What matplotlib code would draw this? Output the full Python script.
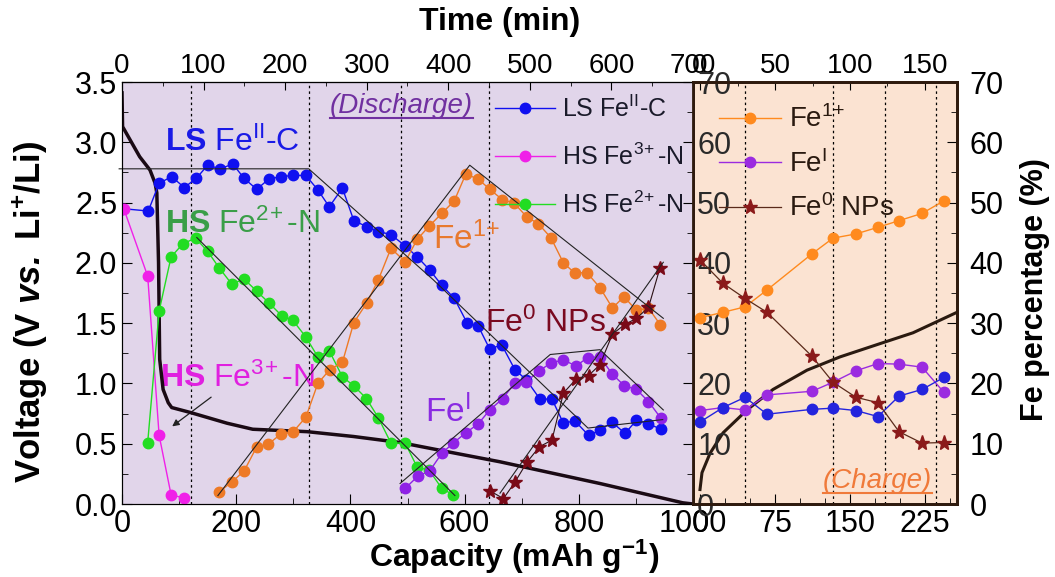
import numpy as np
import matplotlib
matplotlib.use('Agg')
import matplotlib.pyplot as plt
from matplotlib.ticker import MultipleLocator, FormatStrFormatter

plt.rcParams['font.family'] = ['Liberation Sans', 'DejaVu Sans']
plt.rcParams['mathtext.fontset'] = 'custom'
plt.rcParams['mathtext.rm'] = 'Liberation Sans'
plt.rcParams['mathtext.it'] = 'Liberation Sans:italic'
plt.rcParams['mathtext.bf'] = 'Liberation Sans:bold'
plt.rcParams['mathtext.bfit'] = 'Liberation Sans:italic:bold'
plt.rcParams['xtick.direction'] = 'in'
plt.rcParams['ytick.direction'] = 'in'

#########################################################
################### DISCHARGE DATA ######################
#########################################################
# capacity in mAh/g, Fe fraction in %
ls_cap = [0, 46, 65, 87, 109, 130, 150, 172, 194, 214, 236, 257, 278, 299, 322,
          343, 363, 386, 406, 429, 449, 471, 496, 517, 539, 560, 582, 604, 624,
          644, 665, 688, 708, 732, 753, 773, 793, 817, 837, 858, 881, 901, 922, 944]
ls_pct = [49.0, 48.6, 53.2, 54.3, 52.5, 54.0, 56.2, 55.6, 56.4, 54.0, 52.2, 53.9,
          54.3, 54.5, 54.5, 52.1, 49.3, 52.4, 47.0, 46.0, 45.2, 44.7, 42.8, 41.0,
          38.8, 36.3, 34.1, 30.1, 29.5, 25.7, 26.4, 22.3, 20.6, 17.4, 17.4, 13.4,
          13.8, 11.4, 12.2, 13.6, 11.7, 13.9, 13.3, 12.4]

hs3_cap = [3, 45, 65, 86, 109]
hs3_pct = [49.0, 37.8, 11.4, 1.5, 1.0]

hs2_cap = [45, 65, 86, 107, 129, 150, 170, 192, 214, 236, 258, 280, 299, 322, 343,
           363, 386, 406, 428, 449, 471, 496, 517, 538, 560, 580]
hs2_pct = [10.2, 32.0, 41.0, 43.2, 44.1, 41.9, 39.2, 36.5, 37.3, 35.3, 33.3, 31.2,
           30.5, 27.7, 24.4, 25.4, 21.1, 19.6, 17.5, 14.3, 10.1, 10.1, 6.1, 5.6,
           2.6, 1.5]

fe1_cap = [170, 193, 214, 236, 256, 278, 299, 322, 343, 364, 386, 406, 429, 449,
           471, 496, 517, 538, 560, 582, 602, 624, 644, 666, 687, 709, 729, 751,
           773, 793, 814, 837, 859, 879, 901, 922, 943]
fe1_pct = [2.0, 3.7, 5.5, 9.5, 9.9, 11.6, 11.9, 14.4, 20.0, 22.3, 23.5, 30.1, 33.4,
           37.2, 42.4, 40.2, 43.9, 46.1, 48.2, 50.3, 54.7, 53.9, 52.2, 50.5, 49.9,
           47.6, 46.5, 44.2, 40.0, 38.3, 38.4, 35.9, 32.5, 34.4, 32.1, 32.5, 29.7]

fei_cap = [496, 518, 539, 560, 580, 602, 624, 644, 667, 688, 708, 731, 751, 773,
           795, 816, 837, 859, 880, 901, 922, 944]
fei_pct = [2.6, 4.6, 5.5, 8.4, 10.1, 11.8, 13.3, 15.6, 17.5, 20.1, 20.3, 22.1, 23.4,
           23.9, 22.9, 24.3, 24.4, 21.5, 19.6, 19.0, 17.0, 14.2]

fe0_cap = [644, 668, 688, 709, 731, 753, 773, 795, 817, 837, 859, 881, 901, 922, 942]
fe0_pct = [2.2, 0.9, 3.6, 6.9, 9.5, 10.6, 18.4, 20.7, 21.3, 23.1, 28.2, 29.8, 30.8,
           32.6, 39.1]

# discharge voltage profile
v_cap = [0, 1, 31, 49, 58, 61, 64, 66, 72, 81, 87, 119, 184, 229, 324, 405, 487,
         574, 662, 837, 982, 1000]
v_volt = [3.41, 3.13, 2.88, 2.77, 2.66, 2.58, 2.0, 1.2, 0.95, 0.84, 0.80, 0.76,
          0.67, 0.62, 0.60, 0.56, 0.51, 0.43, 0.35, 0.17, 0.01, 0.0]

# guide lines (capacity, %)
guide_ls_cap = [-5, 327, 545, 816, 947]
guide_ls_pct = [55.6, 55.6, 37.2, 12.6, 14.0]
guide_hs2_cap = [131, 583]
guide_hs2_pct = [44.2, 1.4]
guide_fe1_cap = [168, 609, 948]
guide_fe1_pct = [1.4, 56.2, 30.8]
guide_fei_cap = [487, 750, 837, 948]
guide_fei_pct = [3.4, 24.8, 25.6, 15.6]
guide_fe0_cap = [662, 948]
guide_fe0_pct = [1.8, 40.1]

dis_dotted = [121, 327, 489, 643]

#########################################################
#################### CHARGE DATA ########################
#########################################################
ch_cap = [0, 23, 45, 67, 112, 133, 156, 178, 199, 222, 244]
ch_fe1 = [30.9, 31.8, 32.7, 35.5, 41.5, 44.1, 44.8, 45.9, 47.0, 48.2, 50.3]
ch_fei = [15.5, 16.0, 15.6, 18.1, 18.7, 20.2, 22.1, 23.3, 23.2, 22.7, 18.5]
ch_ls = [13.6, 16.0, 17.7, 14.9, 15.7, 15.9, 15.5, 14.5, 17.9, 19.0, 21.0]
ch_fe0 = [40.5, 36.6, 34.1, 31.8, 24.5, 20.2, 17.7, 16.8, 12.0, 10.1, 10.2]

chv_cap = [0, 2, 10, 23, 47, 73, 107, 140, 180, 213, 257]
chv_volt = [0.12, 0.26, 0.42, 0.59, 0.78, 0.95, 1.11, 1.22, 1.33, 1.42, 1.59]

ch_dotted = [45, 133, 185, 236]

# colours
c_blue = '#1010F0'
c_mag = '#F020E8'
c_green = '#22DD22'
c_orange = '#EE7A26'
c_purple = '#8F22E6'
c_star = '#7A0A18'

fig = plt.figure(figsize=(10.55, 5.77), dpi=100)
W, H = 1055.0, 577.0
ax = fig.add_axes([122 / W, 1 - 504 / H, 571 / W, 422 / H])
ax_p = ax.twinx()
cx = fig.add_axes([693 / W, 1 - 504 / H, 264 / W, 422 / H])
cx_p = cx.twinx()
cx.set_zorder(-1)

# ---------------- discharge panel ----------------
ax.set_facecolor('#E1D5EA')
ax.set_xlim(0, 1000)
ax.set_ylim(0, 3.5)
ax_p.set_ylim(0, 70)

for c in dis_dotted:
    ax.axvline(c, color='black', lw=0.9, ls=(0, (2, 2.5)))

ax.plot(v_cap, v_volt, color='#1A0A14', lw=2.5, zorder=4)

kw = dict(marker='o', ms=7.5, lw=1.0)
l_ls, = ax_p.plot(ls_cap, ls_pct, color=c_blue, mfc=c_blue, mec=c_blue, **kw)
l_hs3, = ax_p.plot(hs3_cap, hs3_pct, color=c_mag, **kw)
l_hs2, = ax_p.plot(hs2_cap, hs2_pct, color=c_green, **kw)
ax_p.plot(fe1_cap, fe1_pct, color=c_orange, **kw)
ax_p.plot(fei_cap, fei_pct, color=c_purple, **kw)
ax_p.plot(fe0_cap, fe0_pct, color='#2A1014', lw=0.8, marker='*', ms=10,
          mfc=c_star, mec=c_star)

for gx, gy in [(guide_ls_cap, guide_ls_pct), (guide_hs2_cap, guide_hs2_pct),
               (guide_fe1_cap, guide_fe1_pct), (guide_fei_cap, guide_fei_pct),
               (guide_fe0_cap, guide_fe0_pct)]:
    ax_p.plot(gx, gy, color='#222222', lw=0.8, clip_on=False)

ax.xaxis.set_major_locator(MultipleLocator(200))
ax.xaxis.set_minor_locator(MultipleLocator(100))
ax.yaxis.set_major_locator(MultipleLocator(0.5))
ax.yaxis.set_minor_locator(MultipleLocator(0.25))
ax.yaxis.set_major_formatter(FormatStrFormatter('%.1f'))
ax.tick_params(which='both', labelsize=22, top=False)
ax.tick_params(which='major', length=7)
ax.tick_params(which='minor', length=4)
ax_p.yaxis.set_major_locator(MultipleLocator(10))
ax_p.yaxis.set_minor_locator(MultipleLocator(5))
ax_p.tick_params(axis='y', which='both', labelsize=22, pad=3, labelcolor='#2a2a2a')
ax_p.tick_params(which='major', length=7)
ax_p.tick_params(which='minor', length=4)
for s in ax.spines.values():
    s.set_color('#333333')

ax_top = ax.secondary_xaxis('top', functions=(lambda c: c * 0.7, lambda t: t / 0.7))
ax_top.xaxis.set_major_locator(MultipleLocator(100))
ax_top.xaxis.set_minor_locator(MultipleLocator(50))
ax_top.tick_params(which='both', labelsize=20, pad=2)
ax_top.tick_params(which='major', length=6)
ax_top.tick_params(which='minor', length=3)

leg = ax_p.legend([l_ls, l_hs3, l_hs2],
                  ['LS Fe$^{\\rm II}$-C', 'HS Fe$^{3\\!+}$-N', 'HS Fe$^{2\\!+}$-N'],
                  loc='upper left', bbox_to_anchor=(0.653, 0.968), frameon=False,
                  fontsize=18, handlelength=2.4, handletextpad=0.3,
                  labelspacing=0.87, borderpad=0, borderaxespad=0)
for t in leg.get_texts():
    t.set_color('#1A1A2A')

# species labels
ax.text(75, 2.93, '$\\mathbf{LS}$ Fe$^{\\rm II}$-C', color='#1A1AE6', fontsize=23)
ax.text(75, 2.25, '$\\mathbf{HS}$ Fe$^{2\\!+}$-N', color='#3A9E48', fontsize=23)
ax.text(67, 0.97, '$\\mathbf{HS}$ Fe$^{3\\!+}$-N', color='#E020E0', fontsize=23)
ax.text(545, 2.11, 'Fe$^{1\\!+}$', color='#E8792E', fontsize=24)
ax.text(636, 1.43, 'Fe$^{0}$ NPs', color='#7A0A20', fontsize=23)
ax.text(531, 0.68, 'Fe$^{\\rm I}$', color='#8A2BE2', fontsize=24)
t_dis = ax.text(364, 3.24, '(Discharge)', color='#7030A0', fontsize=20,
                style='italic')
ax.annotate('', xy=(84, 0.63), xytext=(160, 0.90),
            arrowprops=dict(arrowstyle='-|>', color='#222222', lw=0.9,
                            mutation_scale=10))

# ---------------- charge panel ----------------
cx.set_facecolor('#FBE3D2')
cx.set_xlim(-7, 257)
cx.set_ylim(0, 3.5)
cx_p.set_ylim(0, 70)

for c in ch_dotted:
    cx.axvline(c, color='black', lw=0.9, ls=(0, (2, 2.5)))

cx.plot(chv_cap, chv_volt, color='#2A1A10', lw=2.2)

l_c1, = cx_p.plot(ch_cap, ch_fe1, color='#FF8A1E', **kw)
l_c2, = cx_p.plot(ch_cap, ch_fei, color='#9B2BE0', **kw)
cx_p.plot(ch_cap, ch_ls, color='#2424DD', **kw)
l_c3, = cx_p.plot(ch_cap, ch_fe0, color='#5A2A1A', lw=0.9, marker='*', ms=11,
                  mfc='#8B1A1A', mec='#8B1A1A')

cx.xaxis.set_major_locator(MultipleLocator(75))
cx.xaxis.set_minor_locator(MultipleLocator(25))
cx.tick_params(axis='x', which='both', labelsize=22, top=False)
cx.tick_params(which='major', length=7)
cx.tick_params(which='minor', length=4)
cx.tick_params(axis='y', which='both', left=False, labelleft=False)
cx_p.yaxis.set_major_locator(MultipleLocator(10))
cx_p.yaxis.set_minor_locator(MultipleLocator(5))
cx_p.tick_params(axis='y', which='both', labelsize=22, pad=9)
cx_p.tick_params(which='major', length=7)
cx_p.tick_params(which='minor', length=4)
for a in (cx, cx_p):
    for s in a.spines.values():
        s.set_color('#2E1A0E')
        s.set_linewidth(2)

cx_top = cx.secondary_xaxis('top', functions=(lambda c: c / 1.5, lambda t: t * 1.5))
cx_top.xaxis.set_major_locator(MultipleLocator(50))
cx_top.xaxis.set_minor_locator(MultipleLocator(25))
cx_top.tick_params(which='both', labelsize=20, pad=2)
cx_top.tick_params(which='major', length=6)
cx_top.tick_params(which='minor', length=3)

leg2 = cx_p.legend([l_c1, l_c2, l_c3], ['Fe$^{1\\!+}$', 'Fe$^{\\rm I}$', 'Fe$^{0}$ NPs'],
                   loc='upper left', bbox_to_anchor=(0.1, 0.944), frameon=False,
                   fontsize=20, handlelength=2.2, handletextpad=0.3,
                   labelspacing=0.6, borderpad=0, borderaxespad=0)
for t in leg2.get_texts():
    t.set_color('#2A1A10')

t_ch = cx.text(123, 0.13, '(Charge)', color='#F07A3A', fontsize=20, style='italic')

# axis titles
fig.text(30 / W, 1 - 312 / H, 'Voltage (V $\\mathbfit{vs.}$ Li$^{\\mathbf{+}}$/Li)',
         rotation=90, ha='center', va='center', fontsize=25, fontweight='bold')
fig.text(514 / W, 1 - 557 / H, 'Capacity (mAh g$^{\\mathbf{-1}}$)', ha='center',
         va='center', fontsize=23, fontweight='bold')
fig.text(500 / W, 1 - 22 / H, 'Time (min)', ha='center', va='center', fontsize=23,
         fontweight='bold')
fig.text(1035 / W, 1 - 290 / H, 'Fe percentage (%)', rotation=90, ha='center',
         va='center', fontsize=22, fontweight='bold')

# underline the state labels
fig.canvas.draw()
inv = fig.transFigure.inverted()
for t, c in [(t_dis, '#7030A0'), (t_ch, '#F07A3A')]:
    bb = t.get_window_extent().transformed(inv)
    fig.add_artist(plt.Line2D([bb.x0, bb.x1], [bb.y0 + 0.002, bb.y0 + 0.002],
                              color=c, lw=1.5))

fig.savefig('out.png', dpi=100)
